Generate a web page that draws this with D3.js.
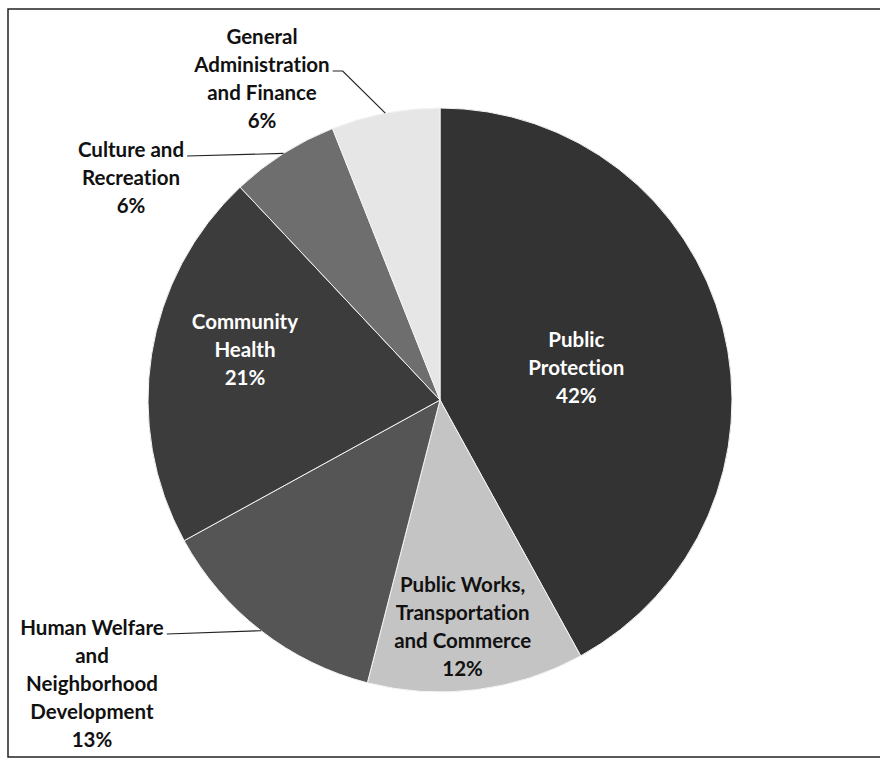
<!DOCTYPE html>
<html>
<head>
<meta charset="utf-8">
<script src="https://cdn.jsdelivr.net/npm/d3@7"></script>
<style>
  body { margin: 0; background: #fff; }
  text { font-family: Lato, "Noto Sans", sans-serif; font-weight: 700; font-variant-ligatures: none; }
</style>
</head>
<body>
<div id="chart"></div>
<script>
// Slices in clockwise order from 12 o'clock
var categories = [
  "Public Protection",
  "Public Works, Transportation and Commerce",
  "Human Welfare and Neighborhood Development",
  "Community Health",
  "Culture and Recreation",
  "General Administration and Finance"
];
var shares = [42, 12, 13, 21, 6, 6];
var labelLines = [
  ["Public", "Protection", "42%"],
  ["Public Works,", "Transportation", "and Commerce", "12%"],
  ["Human Welfare", "and", "Neighborhood", "Development", "13%"],
  ["Community", "Health", "21%"],
  ["Culture and", "Recreation", "6%"],
  ["General", "Administration", "and Finance", "6%"]
];

// styling / layout
var fills = ["#333333", "#c4c4c4", "#555555", "#3c3c3c", "#6e6e6e", "#e6e6e6"];
var textFill = ["#fff", "#111", "#111", "#fff", "#111", "#111"];
// inside labels: radius factor + angle nudge (deg); outside labels: text block top + leader settings
var labelLayout = [
  { inside: true, rf: 0.48, da: 1 },
  { inside: true, rf: 0.78, da: 1.5 },
  { inside: false, x: 92, y: 628, leaderLine: 0, elbow: 0 },
  { inside: true, rf: 0.69, da: 5.5 },
  { inside: false, x: 131, y: 150, leaderLine: 0, elbow: 0 },
  { inside: false, x: 262, y: 37, leaderLine: 1, elbow: 10 }
];

var width = 880, height = 761;
var cx = 440, cy = 400, radius = 292;
var lineH = 28;

var svg = d3.select("#chart").append("svg")
  .attr("width", width)
  .attr("height", height);

// frame of the scanned chart area
svg.append("rect")
  .attr("x", 8).attr("y", 9)
  .attr("width", width + 10).attr("height", 748)
  .attr("fill", "none")
  .attr("stroke", "#222")
  .attr("stroke-width", 1.5);

var pie = d3.pie().sort(null).value(d => d)(shares);
var arc = d3.arc().innerRadius(0).outerRadius(radius);

var g = svg.append("g")
  .attr("transform", "translate(" + cx + "," + cy + ")");

g.selectAll("path.slice")
  .data(pie)
  .enter().append("path")
  .attr("class", "slice")
  .attr("d", arc)
  .attr("fill", (d, i) => fills[i])
  .attr("stroke", "#f4f4f4")
  .attr("stroke-width", 1);

// labels
pie.forEach(function (d, i) {
  var lay = labelLayout[i];
  var lines = labelLines[i];
  var mid = (d.startAngle + d.endAngle) / 2;
  var px, py;
  if (lay.inside) {
    var a = mid + lay.da * Math.PI / 180;
    px = cx + radius * lay.rf * Math.sin(a);
    py = cy - radius * lay.rf * Math.cos(a);
  } else {
    px = lay.x;
    py = lay.y;
  }
  var top = lay.inside ? py - (lines.length - 1) * lineH / 2 : py;

  var t = svg.append("text")
    .attr("text-anchor", "middle")
    .attr("font-size", 20.5)
    .attr("fill", textFill[i]);
  lines.forEach(function (ln, k) {
    t.append("tspan")
      .attr("x", px)
      .attr("y", top + k * lineH)
      .attr("dy", "0.35em")
      .text(ln);
  });

  if (!lay.inside) {
    var span = t.selectAll("tspan").nodes()[lay.leaderLine];
    var bb = span.getBBox();
    var sx = bb.x + bb.width + 3;
    var sy = top + lay.leaderLine * lineH + 6;
    var ex = cx + radius * Math.sin(mid);
    var ey = cy - radius * Math.cos(mid);
    var pts = [[sx, sy]];
    if (lay.elbow) pts.push([sx + lay.elbow, sy]);
    pts.push([ex, ey]);
    svg.append("path")
      .attr("d", d3.line()(pts))
      .attr("fill", "none")
      .attr("stroke", "#222")
      .attr("stroke-width", 1.2);
  }
});
</script>
</body>
</html>
